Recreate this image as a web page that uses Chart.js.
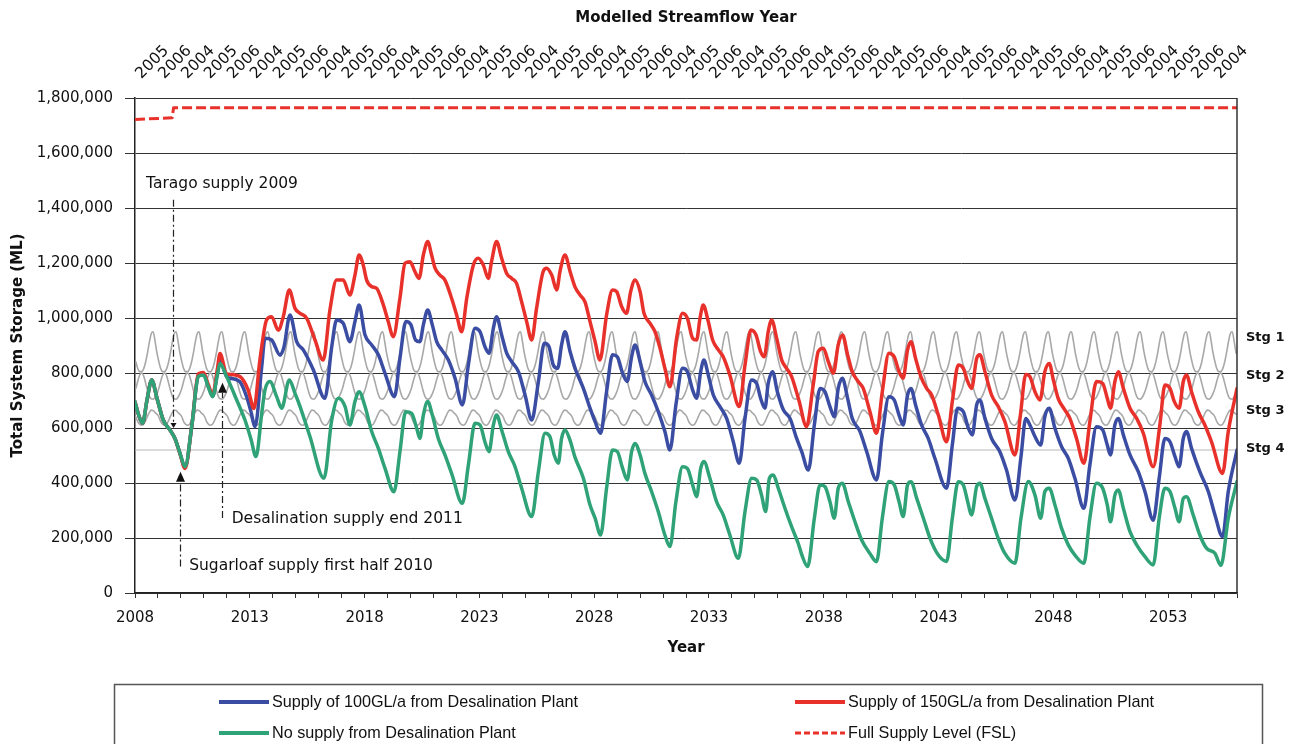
<!DOCTYPE html>
<html>
<head>
<meta charset="utf-8">
<title>Total System Storage</title>
<script src="https://cdn.jsdelivr.net/npm/chart.js"></script>
<style>
  html, body { margin: 0; padding: 0; background: #fff; }
  #wrap { width: 1291px; height: 744px; overflow: hidden; }
</style>
</head>
<body>
<div id="wrap"><canvas id="storageChart" width="1291" height="744"></canvas></div>
<script>
// ---- Data (storage values in thousand ML, x in decimal years) ----
const yearTicks = [2008, 2013, 2018, 2023, 2028, 2033, 2038, 2043, 2048, 2053];
const storageTicks = [0, 200000, 400000, 600000, 800000, 1000000, 1200000, 1400000, 1600000, 1800000];
const streamflowYears = [
  '2005', '2006', '2004', '2005', '2006', '2004', '2005', '2006', '2004', '2005', '2006', '2004',
  '2005', '2006', '2004', '2005', '2006', '2004', '2005', '2006', '2004', '2005', '2006', '2004',
  '2005', '2006', '2004', '2005', '2006', '2004', '2005', '2006', '2004', '2005', '2006', '2004',
  '2005', '2006', '2004', '2005', '2006', '2004', '2005', '2006', '2004', '2005', '2006', '2004'
];

const fslLevel = [[2008.0, 1722], [2009.62, 1728], [2009.68, 1765], [2056.0, 1765]];

const noDesal = [
  [2008.00, 695], [2008.15, 650], [2008.33, 617], [2008.52, 700], [2008.73, 775], [2008.94, 714],
  [2009.23, 629], [2009.52, 593], [2009.74, 562], [2009.96, 508], [2010.18, 459], [2010.47, 605],
  [2010.76, 787], [2010.98, 793], [2011.19, 750], [2011.38, 714], [2011.59, 793], [2011.70, 835],
  [2011.99, 787], [2012.43, 702], [2012.79, 629], [2013.05, 560], [2013.27, 496], [2013.52, 653],
  [2013.66, 738], [2013.88, 769], [2014.17, 714], [2014.39, 672], [2014.72, 775], [2014.97, 726],
  [2015.19, 678], [2015.62, 569], [2016.23, 417], [2016.57, 629], [2016.86, 708], [2017.15, 678],
  [2017.36, 611], [2017.58, 696], [2017.76, 732], [2018.02, 678], [2018.31, 587], [2018.60, 526],
  [2018.89, 453], [2019.28, 368], [2019.54, 514], [2019.79, 659], [2020.05, 653], [2020.27, 599],
  [2020.41, 562], [2020.56, 647], [2020.75, 696], [2020.95, 647], [2021.21, 562], [2021.50, 502],
  [2021.79, 435], [2022.26, 326], [2022.52, 465], [2022.81, 617], [2023.03, 611], [2023.24, 550],
  [2023.42, 514], [2023.61, 611], [2023.75, 647], [2023.97, 593], [2024.26, 514], [2024.55, 460],
  [2024.84, 381], [2025.28, 278], [2025.57, 441], [2025.86, 581], [2026.07, 569], [2026.26, 502],
  [2026.44, 472], [2026.58, 562], [2026.73, 593], [2026.95, 555], [2027.16, 495], [2027.53, 417],
  [2027.82, 320], [2028.04, 272], [2028.28, 211], [2028.54, 381], [2028.80, 520], [2029.01, 514],
  [2029.24, 453], [2029.44, 411], [2029.63, 514], [2029.78, 544], [2030.00, 502], [2030.21, 435],
  [2030.50, 369], [2030.79, 296], [2031.08, 211], [2031.30, 169], [2031.56, 332], [2031.85, 459],
  [2032.06, 453], [2032.29, 393], [2032.46, 350], [2032.64, 453], [2032.78, 478], [2033.04, 417],
  [2033.33, 332], [2033.62, 284], [2033.91, 211], [2034.28, 126], [2034.57, 296], [2034.86, 417],
  [2035.08, 411], [2035.29, 356], [2035.47, 296], [2035.63, 417], [2035.80, 429], [2036.02, 381],
  [2036.31, 308], [2036.60, 241], [2036.89, 180], [2037.04, 140], [2037.30, 96], [2037.59, 272],
  [2037.84, 393], [2038.05, 387], [2038.27, 332], [2038.46, 272], [2038.63, 381], [2038.81, 399],
  [2039.07, 332], [2039.36, 259], [2039.65, 193], [2040.01, 144], [2040.30, 114], [2040.55, 272],
  [2040.84, 405], [2041.07, 393], [2041.28, 332], [2041.46, 278], [2041.65, 393], [2041.80, 405],
  [2042.05, 344], [2042.34, 272], [2042.63, 199], [2042.99, 138], [2043.35, 115], [2043.60, 272],
  [2043.86, 405], [2044.08, 393], [2044.27, 332], [2044.44, 284], [2044.66, 387], [2044.80, 399],
  [2045.02, 344], [2045.31, 272], [2045.60, 199], [2045.89, 144], [2046.33, 108], [2046.59, 272],
  [2046.91, 405], [2047.20, 356], [2047.45, 272], [2047.63, 369], [2047.82, 381], [2048.07, 320],
  [2048.36, 235], [2048.65, 175], [2048.94, 138], [2049.33, 108], [2049.59, 272], [2049.88, 399],
  [2050.15, 381], [2050.35, 320], [2050.49, 259], [2050.68, 356], [2050.83, 375], [2051.05, 308],
  [2051.34, 223], [2051.63, 175], [2051.99, 132], [2052.35, 102], [2052.61, 272], [2052.86, 381],
  [2053.08, 369], [2053.30, 308], [2053.48, 259], [2053.66, 344], [2053.80, 350], [2054.09, 284],
  [2054.38, 211], [2054.67, 163], [2055.04, 144], [2055.30, 100], [2055.62, 272], [2056.00, 405]
];

const desal100 = [
  [2008.00, 695], [2008.15, 650], [2008.33, 617], [2008.52, 700], [2008.73, 775], [2008.94, 714],
  [2009.23, 629], [2009.52, 593], [2009.74, 562], [2009.96, 508], [2010.18, 457], [2010.47, 605],
  [2010.76, 790], [2010.98, 796], [2011.19, 752], [2011.38, 716], [2011.59, 800], [2011.70, 845],
  [2011.99, 787], [2012.14, 781], [2012.57, 768], [2012.86, 714], [2013.05, 660], [2013.23, 605],
  [2013.52, 823], [2013.66, 926], [2013.95, 920], [2014.32, 865], [2014.49, 895], [2014.75, 1011],
  [2015.04, 914], [2015.33, 884], [2015.77, 811], [2016.27, 708], [2016.57, 896], [2016.78, 993],
  [2017.07, 981], [2017.36, 914], [2017.58, 987], [2017.76, 1047], [2018.02, 938], [2018.31, 902],
  [2018.60, 866], [2018.89, 799], [2019.30, 714], [2019.54, 853], [2019.80, 987], [2020.02, 975],
  [2020.22, 920], [2020.41, 914], [2020.56, 975], [2020.75, 1029], [2020.95, 975], [2021.14, 914],
  [2021.36, 884], [2021.65, 847], [2021.94, 781], [2022.26, 684], [2022.52, 829], [2022.81, 963],
  [2023.03, 950], [2023.24, 896], [2023.42, 872], [2023.61, 963], [2023.75, 1005], [2023.97, 938],
  [2024.19, 872], [2024.41, 841], [2024.70, 805], [2024.99, 720], [2025.28, 629], [2025.57, 768],
  [2025.83, 908], [2026.03, 896], [2026.22, 829], [2026.41, 817], [2026.58, 902], [2026.73, 950],
  [2026.95, 878], [2027.20, 810], [2027.53, 744], [2027.82, 672], [2028.04, 623], [2028.28, 581],
  [2028.54, 732], [2028.80, 866], [2029.01, 859], [2029.24, 799], [2029.44, 769], [2029.63, 859],
  [2029.78, 902], [2030.00, 841], [2030.21, 769], [2030.50, 720], [2030.79, 660], [2031.08, 587],
  [2031.30, 520], [2031.56, 684], [2031.85, 817], [2032.06, 805], [2032.29, 738], [2032.46, 708],
  [2032.64, 805], [2032.78, 847], [2032.97, 793], [2033.19, 720], [2033.48, 678], [2033.77, 635],
  [2034.06, 550], [2034.32, 472], [2034.57, 635], [2034.86, 775], [2035.08, 762], [2035.25, 708],
  [2035.44, 672], [2035.58, 762], [2035.77, 805], [2035.98, 732], [2036.24, 666], [2036.53, 635],
  [2036.82, 562], [2037.04, 514], [2037.33, 447], [2037.59, 611], [2037.84, 744], [2038.05, 732],
  [2038.27, 678], [2038.46, 641], [2038.63, 744], [2038.81, 781], [2039.04, 708], [2039.24, 635],
  [2039.58, 587], [2039.87, 514], [2040.30, 411], [2040.55, 575], [2040.84, 714], [2041.07, 702],
  [2041.28, 647], [2041.46, 611], [2041.65, 720], [2041.80, 744], [2042.00, 684], [2042.26, 611],
  [2042.55, 562], [2042.84, 490], [2043.35, 381], [2043.60, 538], [2043.83, 672], [2044.08, 659],
  [2044.30, 599], [2044.47, 575], [2044.66, 684], [2044.80, 702], [2045.02, 635], [2045.31, 562],
  [2045.67, 514], [2045.96, 447], [2046.33, 338], [2046.59, 495], [2046.80, 635], [2046.98, 611],
  [2047.20, 569], [2047.45, 538], [2047.63, 641], [2047.82, 672], [2048.07, 599], [2048.36, 532],
  [2048.65, 490], [2048.94, 417], [2049.33, 308], [2049.59, 465], [2049.88, 605], [2050.15, 593],
  [2050.35, 538], [2050.49, 502], [2050.68, 611], [2050.83, 635], [2051.05, 575], [2051.34, 502],
  [2051.70, 441], [2051.99, 369], [2052.35, 265], [2052.61, 417], [2052.86, 562], [2053.08, 550],
  [2053.30, 496], [2053.48, 459], [2053.66, 562], [2053.80, 587], [2054.02, 526], [2054.38, 441],
  [2054.75, 369], [2055.04, 284], [2055.37, 205], [2055.62, 369], [2056.00, 520]
];

const desal150 = [
  [2008.00, 695], [2008.15, 650], [2008.33, 617], [2008.52, 700], [2008.73, 775], [2008.94, 714],
  [2009.23, 629], [2009.52, 593], [2009.74, 562], [2009.96, 506], [2010.18, 453], [2010.47, 605],
  [2010.76, 797], [2010.98, 802], [2011.19, 758], [2011.38, 722], [2011.59, 815], [2011.70, 871],
  [2011.99, 797], [2012.14, 795], [2012.57, 787], [2012.93, 738], [2013.18, 671], [2013.44, 847],
  [2013.73, 993], [2013.95, 1005], [2014.24, 956], [2014.46, 1005], [2014.72, 1102], [2014.97, 1035],
  [2015.19, 1017], [2015.48, 999], [2015.84, 920], [2016.20, 847], [2016.49, 1029], [2016.78, 1138],
  [2017.07, 1138], [2017.36, 1084], [2017.58, 1156], [2017.76, 1229], [2017.94, 1193], [2018.09, 1138],
  [2018.31, 1114], [2018.52, 1108], [2018.82, 1047], [2019.03, 987], [2019.25, 932], [2019.54, 1072],
  [2019.76, 1199], [2019.98, 1205], [2020.19, 1169], [2020.37, 1144], [2020.56, 1229], [2020.75, 1278],
  [2020.92, 1229], [2021.07, 1181], [2021.28, 1156], [2021.50, 1138], [2021.79, 1072], [2022.01, 1011],
  [2022.23, 950], [2022.45, 1072], [2022.74, 1193], [2022.95, 1217], [2023.17, 1193], [2023.39, 1144],
  [2023.53, 1205], [2023.75, 1278], [2023.97, 1217], [2024.19, 1162], [2024.41, 1144], [2024.62, 1126],
  [2024.84, 1059], [2025.06, 987], [2025.28, 920], [2025.49, 1035], [2025.78, 1169], [2025.93, 1181],
  [2026.15, 1156], [2026.37, 1102], [2026.51, 1169], [2026.73, 1229], [2026.95, 1169], [2027.16, 1114],
  [2027.38, 1084], [2027.60, 1059], [2027.82, 987], [2028.04, 914], [2028.25, 847], [2028.54, 1011],
  [2028.80, 1102], [2028.98, 1096], [2029.20, 1041], [2029.41, 1017], [2029.59, 1096], [2029.78, 1138],
  [2030.00, 1096], [2030.17, 1017], [2030.43, 981], [2030.65, 950], [2030.87, 890], [2031.08, 817],
  [2031.30, 750], [2031.59, 926], [2031.85, 1017], [2032.06, 999], [2032.29, 926], [2032.46, 920],
  [2032.61, 999], [2032.75, 1047], [2032.97, 987], [2033.16, 920], [2033.41, 884], [2033.62, 859],
  [2033.91, 793], [2034.32, 678], [2034.57, 829], [2034.83, 956], [2035.05, 938], [2035.25, 878],
  [2035.41, 859], [2035.58, 950], [2035.73, 993], [2035.95, 926], [2036.17, 847], [2036.38, 817],
  [2036.60, 787], [2036.92, 700], [2037.25, 605], [2037.54, 756], [2037.76, 878], [2037.98, 890],
  [2038.20, 841], [2038.42, 799], [2038.63, 902], [2038.82, 938], [2039.04, 866], [2039.24, 805],
  [2039.50, 769], [2039.72, 744], [2040.01, 660], [2040.30, 581], [2040.55, 732], [2040.84, 872],
  [2041.07, 859], [2041.28, 805], [2041.46, 781], [2041.65, 884], [2041.80, 914], [2042.00, 853],
  [2042.23, 787], [2042.48, 744], [2042.70, 720], [2042.99, 647], [2043.35, 550], [2043.60, 696],
  [2043.86, 829], [2044.08, 817], [2044.27, 769], [2044.44, 744], [2044.66, 853], [2044.80, 866],
  [2045.02, 805], [2045.31, 720], [2045.60, 678], [2045.89, 623], [2046.33, 502], [2046.57, 650],
  [2046.80, 795], [2046.98, 787], [2047.20, 732], [2047.42, 702], [2047.63, 805], [2047.82, 835],
  [2048.00, 775], [2048.21, 708], [2048.50, 666], [2048.72, 635], [2049.01, 562], [2049.33, 472],
  [2049.59, 623], [2049.88, 769], [2050.15, 762], [2050.35, 708], [2050.49, 672], [2050.68, 769],
  [2050.83, 805], [2051.05, 744], [2051.34, 672], [2051.63, 635], [2051.92, 581], [2052.35, 459],
  [2052.64, 611], [2052.86, 756], [2053.08, 744], [2053.27, 696], [2053.48, 672], [2053.66, 769],
  [2053.80, 793], [2054.02, 732], [2054.31, 660], [2054.60, 611], [2054.89, 550], [2055.37, 435],
  [2055.62, 587], [2056.00, 744]
];

// Restriction trigger curves: same monthly profile every year (Jan..Dec)
const stg1Monthly = [840, 815, 805, 805, 815, 838, 872, 912, 943, 950, 915, 872];
const stg2Monthly = [745, 772, 793, 800, 790, 765, 738, 716, 706, 705, 712, 726];
const stg3Monthly = [640, 622, 613, 610, 614, 626, 642, 657, 665, 664, 656, 650];
const stg4Level = [[2008, 520], [2056, 520]];
const stageLabels = [['Stg 1', 927], ['Stg 2', 789], ['Stg 3', 662], ['Stg 4', 524]];

// ---- Helpers ----
const toPoints = rows => rows.map(([x, v]) => ({ x: x, y: v * 1000 }));

function triggerCurve(monthly) {
  const pts = [];
  for (let yr = 2008; yr < 2056; yr++) {
    monthly.forEach((v, m) => pts.push({ x: yr + (m + 0.5) / 12, y: v * 1000 }));
  }
  return pts;
}

const BLUE = '#3a4da2';
const RED = '#e8312b';
const GREEN = '#2fa377';
const GREY = '#a8a8a8';
const FONT = '"DejaVu Sans", sans-serif';

const lineLabels = {
  desal100: 'Supply of 100GL/a from Desalination Plant',
  desal150: 'Supply of 150GL/a from Desalination Plant',
  noDesal: 'No supply from Desalination Plant',
  fsl: 'Full Supply Level (FSL)'
};

// callouts placed in data units (year, thousand ML)
const callouts = [
  { text: 'Tarago supply 2009', year: 2009.65, from: 1430, to: 600, head: 'down', tx: 2008.48, ty: 1489 },
  { text: 'Sugarloaf supply first half 2010', year: 2009.96, from: 96, to: 441, head: 'up', tx: 2010.36, ty: 100 },
  { text: 'Desalination supply end 2011', year: 2011.79, from: 273, to: 765, head: 'up', tx: 2012.21, ty: 269 }
];

const legendItems = [
  { text: lineLabels.desal100, color: BLUE, dash: null, col: 0, row: 0 },
  { text: lineLabels.desal150, color: RED, dash: null, col: 1, row: 0 },
  { text: lineLabels.noDesal, color: GREEN, dash: null, col: 0, row: 1 },
  { text: lineLabels.fsl, color: RED, dash: [6, 3], col: 1, row: 1 }
];

const extrasPlugin = {
  id: 'extras',
  afterDatasetsDraw(chart) {
    const { ctx, chartArea: a, scales } = chart;
    const x = scales.x, y = scales.y;
    ctx.save();

    // right border of the plot box
    ctx.strokeStyle = '#333';
    ctx.lineWidth = 1.5;
    ctx.beginPath();
    ctx.moveTo(a.right, a.top);
    ctx.lineTo(a.right, a.bottom);
    ctx.stroke();

    // stage labels at the right
    ctx.fillStyle = '#111';
    ctx.font = 'bold 13px ' + FONT;
    ctx.textAlign = 'left';
    ctx.textBaseline = 'middle';
    stageLabels.forEach(([t, v]) => ctx.fillText(t, a.right + 9, y.getPixelForValue(v * 1000)));

    // callout lines, arrows and text
    callouts.forEach(c => {
      const px = Math.round(x.getPixelForValue(c.year)) + 0.5;
      const y0 = y.getPixelForValue(c.from * 1000);
      const y1 = y.getPixelForValue(c.to * 1000);
      ctx.strokeStyle = '#222';
      ctx.lineWidth = 1.2;
      ctx.setLineDash([7, 3, 2, 3]);
      ctx.beginPath();
      if (c.head === 'up') {
        ctx.moveTo(px, y0);
        ctx.lineTo(px, y1 + 10);
      } else {
        ctx.moveTo(px, y0);
        ctx.lineTo(px, y1 - 4);
      }
      ctx.stroke();
      ctx.setLineDash([]);
      ctx.fillStyle = '#111';
      ctx.beginPath();
      if (c.head === 'up') {
        ctx.moveTo(px, y1);
        ctx.lineTo(px - 4.5, y1 + 10);
        ctx.lineTo(px + 4.5, y1 + 10);
      } else {
        ctx.moveTo(px, y1);
        ctx.lineTo(px - 3, y1 - 5);
        ctx.lineTo(px + 3, y1 - 5);
      }
      ctx.closePath();
      ctx.fill();

      ctx.font = '15.5px ' + FONT;
      ctx.textAlign = 'left';
      ctx.textBaseline = 'middle';
      ctx.fillText(c.text, x.getPixelForValue(c.tx), y.getPixelForValue(c.ty * 1000));
    });
    ctx.restore();
  },
  afterDraw(chart) {
    const { ctx } = chart;
    ctx.save();
    // legend frame (runs past the bottom of the picture)
    ctx.strokeStyle = '#555';
    ctx.lineWidth = 1.5;
    ctx.strokeRect(114.5, 684.5, 1148, 90);

    const colX = [219, 795];
    const rowY = [702, 733];
    ctx.font = '16.2px "Liberation Sans", Arial, sans-serif';
    ctx.textAlign = 'left';
    ctx.textBaseline = 'middle';
    legendItems.forEach(it => {
      const lx = colX[it.col], ly = rowY[it.row];
      ctx.strokeStyle = it.color;
      ctx.lineWidth = it.dash ? 3 : 4;
      ctx.setLineDash(it.dash || []);
      ctx.beginPath();
      ctx.moveTo(lx, ly);
      ctx.lineTo(lx + 50, ly);
      ctx.stroke();
      ctx.setLineDash([]);
      ctx.fillStyle = '#111';
      ctx.fillText(it.text, lx + 53, ly + 1);
    });
    ctx.restore();
  }
};

const lineDefaults = {
  pointRadius: 0,
  pointHoverRadius: 0,
  fill: false,
  cubicInterpolationMode: 'monotone',
  borderJoinStyle: 'round',
  borderCapStyle: 'round'
};

const allYears = [];
for (let yr = 2008; yr <= 2056; yr++) allYears.push(yr);

Chart.defaults.font.family = FONT;

new Chart(document.getElementById('storageChart'), {
  type: 'line',
  data: {
    datasets: [
      Object.assign({ label: lineLabels.noDesal, data: toPoints(noDesal), borderColor: GREEN, borderWidth: 3.5, order: 0 }, lineDefaults),
      Object.assign({ label: lineLabels.desal150, data: toPoints(desal150), borderColor: RED, borderWidth: 3.5, order: 1 }, lineDefaults),
      Object.assign({ label: lineLabels.desal100, data: toPoints(desal100), borderColor: BLUE, borderWidth: 3.5, order: 2 }, lineDefaults),
      Object.assign({ label: lineLabels.fsl, data: toPoints(fslLevel), borderColor: RED, borderWidth: 3, borderDash: [10, 4], order: 3 }, lineDefaults, { cubicInterpolationMode: 'default', borderCapStyle: 'butt' }),
      Object.assign({ label: 'Stg 1', data: triggerCurve(stg1Monthly), borderColor: GREY, borderWidth: 1.6, order: 4 }, lineDefaults),
      Object.assign({ label: 'Stg 2', data: triggerCurve(stg2Monthly), borderColor: GREY, borderWidth: 1.6, order: 5 }, lineDefaults),
      Object.assign({ label: 'Stg 3', data: triggerCurve(stg3Monthly), borderColor: GREY, borderWidth: 1.6, order: 6 }, lineDefaults),
      Object.assign({ label: 'Stg 4', data: toPoints(stg4Level), borderColor: '#b8b8b8', borderWidth: 1.2, order: 7 }, lineDefaults)
    ]
  },
  options: {
    responsive: false,
    animation: false,
    devicePixelRatio: 1,
    layout: { padding: { left: 0, right: 54, top: 0, bottom: 81 } },
    plugins: {
      legend: { display: false },
      tooltip: { enabled: false }
    },
    scales: {
      x: {
        type: 'linear',
        position: 'bottom',
        min: 2008,
        max: 2056,
        afterBuildTicks: s => { s.ticks = allYears.map(v => ({ value: v })); },
        afterFit: s => { s.height = 70; s.paddingLeft = 0; s.paddingRight = 0; },
        grid: { drawOnChartArea: false, tickLength: 5, color: '#333', tickColor: '#333' },
        border: { color: '#222', width: 1.5 },
        ticks: {
          autoSkip: false,
          maxRotation: 0,
          padding: 11,
          color: '#111',
          font: { size: 15 },
          callback: v => (yearTicks.includes(v) ? String(v) : '')
        },
        title: { display: true, text: 'Year', color: '#111', font: { size: 15, weight: 'bold' }, padding: { top: 0, bottom: 6 } }
      },
      x2: {
        type: 'linear',
        position: 'top',
        min: 2008,
        max: 2056,
        afterBuildTicks: s => { s.ticks = streamflowYears.map((_, i) => ({ value: 2008.72 + i })); },
        afterFit: s => { s.height = 98; s.paddingLeft = 0; s.paddingRight = 0; },
        grid: { display: false, drawTicks: false },
        border: { display: false },
        ticks: {
          autoSkip: false,
          minRotation: 45,
          maxRotation: 45,
          padding: 15,
          color: '#111',
          font: { size: 15.5 },
          callback: (v, i) => streamflowYears[i]
        },
        title: { display: true, text: 'Modelled Streamflow Year', color: '#111', font: { size: 15, weight: 'bold' }, padding: { top: 9, bottom: 0 } }
      },
      y: {
        min: 0,
        max: 1800000,
        afterBuildTicks: s => { s.ticks = storageTicks.map(v => ({ value: v })); },
        afterFit: s => { s.width = 135; },
        grid: { color: '#333', lineWidth: 1, tickLength: 10, tickColor: '#333' },
        border: { color: '#222', width: 1.5 },
        ticks: {
          padding: 12,
          color: '#111',
          font: { size: 15 },
          callback: v => v.toLocaleString('en-US')
        },
        title: { display: true, text: 'Total System Storage (ML)', color: '#111', font: { size: 15, weight: 'bold' }, padding: { top: 9, bottom: 0 } }
      }
    }
  },
  plugins: [extrasPlugin]
});
</script>
</body>
</html>
